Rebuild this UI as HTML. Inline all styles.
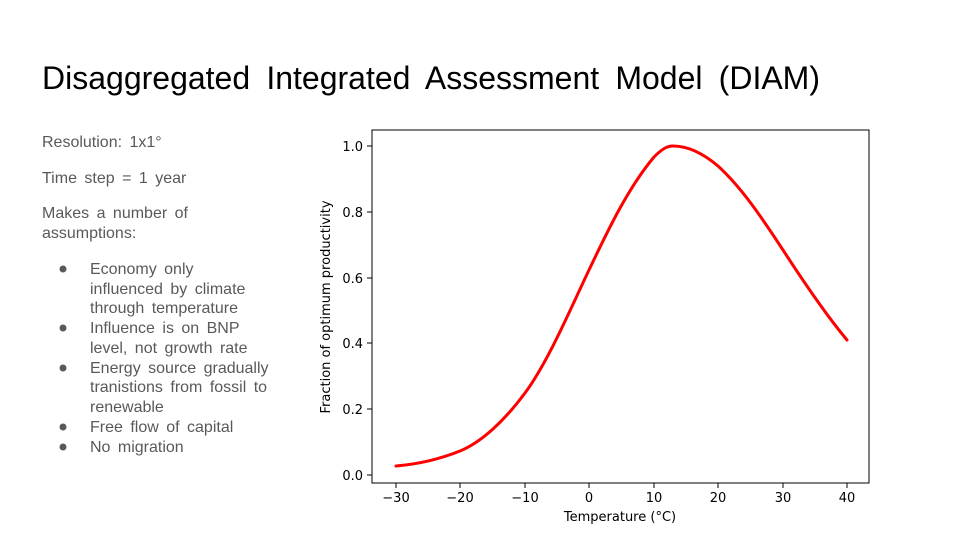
<!DOCTYPE html>
<html><head><meta charset="utf-8"><style>
body{margin:0;background:#fff;}
svg{display:block;font-family:"Liberation Sans",sans-serif;}
</style></head><body>
<svg width="960" height="540" viewBox="0 0 960 540">
<rect width="960" height="540" fill="#fff"/>
<text x="42" y="89" font-size="32" fill="#000" word-spacing="7.3">Disaggregated Integrated Assessment Model (DIAM)</text>
<g font-size="16" fill="#595959" word-spacing="3">
<text x="42" y="147">Resolution:  1x1°</text>
<text x="42" y="183">Time step  = 1 year</text>
<text x="42" y="218">Makes  a number  of</text>
<text x="42" y="238">assumptions:</text>
<text x="90" y="274">Economy  only</text>
<text x="90" y="294">influenced  by climate</text>
<text x="90" y="313">through  temperature</text>
<text x="90" y="333">Influence  is on BNP</text>
<text x="90" y="353">level,  not growth  rate</text>
<text x="90" y="373">Energy source gradually</text>
<text x="90" y="392">tranistions  from fossil to</text>
<text x="90" y="412">renewable</text>
<text x="90" y="432">Free flow of capital</text>
<text x="90" y="452">No migration</text>
<circle cx="63" cy="269" r="3.5"/><circle cx="63" cy="328" r="3.5"/><circle cx="63" cy="368" r="3.5"/><circle cx="63" cy="427" r="3.5"/><circle cx="63" cy="447" r="3.5"/>
</g>
<rect x="372" y="130" width="497" height="353" fill="none" stroke="#000" stroke-width="1"/>
<g stroke="#000" stroke-width="1">
<line x1="396" y1="483" x2="396" y2="488"/><line x1="460" y1="483" x2="460" y2="488"/><line x1="525" y1="483" x2="525" y2="488"/><line x1="589" y1="483" x2="589" y2="488"/><line x1="654" y1="483" x2="654" y2="488"/><line x1="718" y1="483" x2="718" y2="488"/><line x1="783" y1="483" x2="783" y2="488"/><line x1="847" y1="483" x2="847" y2="488"/>
<line x1="367" y1="475" x2="372" y2="475"/><line x1="367" y1="409" x2="372" y2="409"/><line x1="367" y1="343" x2="372" y2="343"/><line x1="367" y1="278" x2="372" y2="278"/><line x1="367" y1="212" x2="372" y2="212"/><line x1="367" y1="146" x2="372" y2="146"/>
</g>
<g font-size="13" fill="#000" text-anchor="middle" font-family="DejaVu Sans, sans-serif">
<text x="396" y="502">−30</text><text x="460" y="502">−20</text><text x="525" y="502">−10</text><text x="589" y="502">0</text><text x="654" y="502">10</text><text x="718" y="502">20</text><text x="783" y="502">30</text><text x="847" y="502">40</text>
<text x="620" y="521">Temperature (°C)</text>
</g>
<g font-size="13" fill="#000" text-anchor="end" font-family="DejaVu Sans, sans-serif">
<text x="363" y="480">0.0</text><text x="363" y="414">0.2</text><text x="363" y="348">0.4</text><text x="363" y="283">0.6</text><text x="363" y="217">0.8</text><text x="363" y="151">1.0</text>
</g>
<text transform="translate(330,307) rotate(-90)" font-size="13" text-anchor="middle" font-family="DejaVu Sans, sans-serif">Fraction of optimum productivity</text>
<path fill="none" stroke="#ff0000" stroke-width="3" stroke-linejoin="round" stroke-linecap="round"
d="M396,466 C420,464 440,459 460,451 C482,442 505,420 525,393 C548,362 570,310 589,270 C608,230 628,188 654,157 C662,149 667,146 673,146 C690,146 705,155 718,166 C742,188 762,218 783,250 C805,284 827,316 847,340"/>
</svg>
</body></html>
